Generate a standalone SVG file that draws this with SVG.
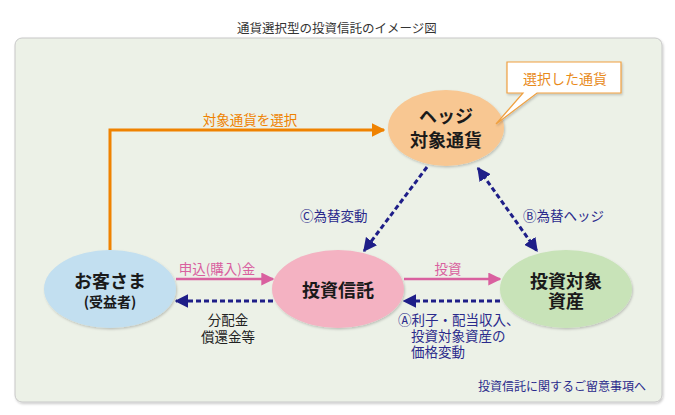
<svg xmlns="http://www.w3.org/2000/svg" width="675" height="415" viewBox="0 0 675 415">
<style>
text{font-family:"Noto Sans CJK JP","Noto Sans",sans-serif;}
.node{font-size:18px;font-weight:bold;fill:#1a1a1a;text-anchor:middle;}
.lbl{font-size:13.5px;}
.navy{fill:#2a2a8c;}
.dash{stroke:#1e1e88;stroke-width:3;stroke-dasharray:5,3;fill:none;}
.pink{stroke:#d9609f;stroke-width:2.5;fill:none;}
</style>
<defs>
<marker id="ahBlue" viewBox="0 0 10 10" refX="9" refY="5" markerWidth="4.6" markerHeight="4.6" orient="auto-start-reverse" markerUnits="strokeWidth"><path d="M0,0 L10,5 L0,10 z" fill="#1e1e88"/></marker>
<marker id="ahPink" viewBox="0 0 10 10" refX="9" refY="5" markerWidth="5.2" markerHeight="5.2" orient="auto" markerUnits="strokeWidth"><path d="M0,0 L10,5 L0,10 z" fill="#d9609f"/></marker>
<marker id="ahOrange" viewBox="0 0 10 10" refX="9" refY="5" markerWidth="4.5" markerHeight="4.5" orient="auto" markerUnits="strokeWidth"><path d="M0,0 L10,5 L0,10 z" fill="#ef8200"/></marker>
<filter id="sh" x="-10%" y="-10%" width="120%" height="120%"><feDropShadow dx="1" dy="1.5" stdDeviation="1" flood-color="#000" flood-opacity="0.2"/></filter>
</defs>
<rect width="675" height="415" fill="#ffffff"/>
<text x="337" y="33" font-size="12.5" fill="#333" text-anchor="middle">通貨選択型の投資信託のイメージ図</text>
<rect x="15" y="38" width="647" height="364" rx="7" fill="#ecf1e7" stroke="#c8c8c8" stroke-width="1" filter="url(#sh)"/>

<g id="connectors">
<polyline points="110,250 110,130 384,130" fill="none" stroke="#ef8200" stroke-width="3" marker-end="url(#ahOrange)"/>
<text x="250" y="125" class="lbl" fill="#ef8200" text-anchor="middle" font-size="14">対象通貨を選択</text>
<line x1="176" y1="279" x2="273" y2="279" class="pink" marker-end="url(#ahPink)"/>
<text x="217" y="274" class="lbl" fill="#d9609f" text-anchor="middle">申込(購入)金</text>
<line x1="273" y1="301" x2="176" y2="301" class="dash" marker-end="url(#ahBlue)"/>
<text x="228" y="325" class="lbl" fill="#222" text-anchor="middle">分配金</text>
<text x="228" y="342" class="lbl" fill="#222" text-anchor="middle">償還金等</text>
<line x1="404" y1="279" x2="500" y2="279" class="pink" marker-end="url(#ahPink)"/>
<text x="448" y="274" class="lbl" fill="#d9609f" text-anchor="middle">投資</text>
<line x1="500" y1="301" x2="404" y2="301" class="dash" marker-end="url(#ahBlue)"/>
<text x="398" y="325" class="lbl navy">Ⓐ利子・配当収入、</text>
<text x="411" y="341" class="lbl navy">投資対象資産の</text>
<text x="411" y="357" class="lbl navy">価格変動</text>
<line x1="427" y1="167" x2="364" y2="251" class="dash" marker-end="url(#ahBlue)"/>
<text x="300" y="221" class="lbl navy">Ⓒ為替変動</text>
<line x1="478" y1="168" x2="537" y2="251" class="dash" marker-start="url(#ahBlue)" marker-end="url(#ahBlue)"/>
<text x="523" y="221" class="lbl navy">Ⓑ為替ヘッジ</text>
</g>

<g id="node-hedge">
<ellipse cx="446" cy="128" rx="58" ry="38" fill="#f8c792" filter="url(#sh)"/>
<text x="446" y="123" class="node">ヘッジ</text>
<text x="446" y="147" class="node">対象通貨</text>
</g>
<g id="callout">
<path d="M507,62 H621 V93 H537 L496,124 L523,93 H507 Z" fill="#ffffff" stroke="#f0a040" stroke-width="1.2" filter="url(#sh)"/>
<text x="565" y="84" font-size="14" fill="#e88a1a" text-anchor="middle">選択した通貨</text>
</g>
<g id="node-customer">
<ellipse cx="110" cy="289" rx="66" ry="39" fill="#c2dff0" filter="url(#sh)"/>
<text x="110" y="288" class="node">お客さま</text>
<text x="110" y="307" class="node" style="font-size:14px">(受益者)</text>
</g>
<g id="node-trust">
<ellipse cx="338" cy="289" rx="66" ry="39" fill="#f4b2c2" filter="url(#sh)"/>
<text x="338" y="297" class="node">投資信託</text>
</g>
<g id="node-asset">
<ellipse cx="566" cy="289" rx="66" ry="39" fill="#c8e3b8" filter="url(#sh)"/>
<text x="566" y="288" class="node">投資対象</text>
<text x="566" y="308" class="node">資産</text>
</g>
<text x="646" y="391" font-size="12" fill="#2a2a8c" text-anchor="end">投資信託に関するご留意事項へ</text>
</svg>
